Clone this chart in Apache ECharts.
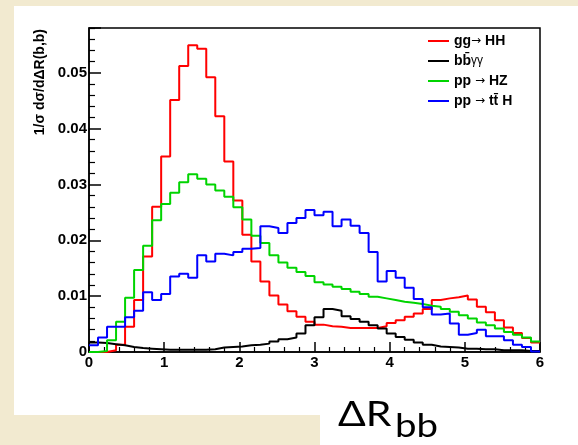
<!DOCTYPE html>
<html>
<head>
<meta charset="utf-8">
<script src="https://cdn.jsdelivr.net/npm/echarts@6/dist/echarts.min.js"></script>
<style>
  html, body { margin:0; padding:0; }
  body { width:578px; height:445px; background:#F2EAD0; position:relative; overflow:hidden; }
  .panel { position:absolute; background:#ffffff; }
  #chart { position:absolute; left:0; top:0; width:578px; height:445px; }
</style>
</head>
<body>
<div class="panel" style="left:14px; top:6px; width:564px; height:409px;"></div>
<div class="panel" style="left:320px; top:414px; width:258px; height:31px;"></div>
<div id="chart"></div>
<script>
// ---- Data (normalized distributions, 50 bins from 0 to 6) ----
const xRange = [0, 6];
const nBins = 50;
const seriesNames = ['gg\u2192 HH', 'bb\u0304\u03b3\u03b3', 'pp \u2192 HZ', 'pp \u2192 tt\u0304 H'];
const seriesColors = ['#ff0000', '#000000', '#00d400', '#0000ff'];

const ggHH = [0, 0, 0.0003, 0.0013, 0.0045, 0.0093, 0.0171, 0.0260, 0.0350, 0.0451,
  0.0512, 0.0549, 0.0543, 0.0492, 0.0422, 0.0341, 0.0271, 0.0210, 0.0162, 0.0126,
  0.0101, 0.0085, 0.0073, 0.0063, 0.0054, 0.0049, 0.0046, 0.0045, 0.0043, 0.0043,
  0.0043, 0.0043, 0.0046, 0.0052, 0.0057, 0.0063, 0.0069, 0.0077, 0.0093, 0.0096,
  0.0098, 0.0101, 0.0094, 0.0081, 0.0071, 0.0057, 0.0044, 0.0034, 0.0025, 0.0017];

const bbgg = [0.0017, 0.0016, 0.0014, 0.0012, 0.0009, 0.0007, 0.0006, 0.0005, 0.0004, 0.0004,
  0.0004, 0.0004, 0.0004, 0.0005, 0.0008, 0.0009, 0.0010, 0.0012, 0.0013, 0.0015,
  0.0019, 0.0023, 0.0026, 0.0033, 0.0048, 0.0062, 0.0077, 0.0074, 0.0064, 0.0059,
  0.0054, 0.0048, 0.0042, 0.0033, 0.0027, 0.0022, 0.0017, 0.0013, 0.0010, 0.0009,
  0.0008, 0.0006, 0.0006, 0.0005, 0.0005, 0.0003, 0.0003, 0.0003, 0.0002, 0.0002];

const ppHZ = [0, 0.0002, 0.0021, 0.0054, 0.0097, 0.0147, 0.0190, 0.0236, 0.0265, 0.0285,
  0.0304, 0.0318, 0.0310, 0.0300, 0.0289, 0.0278, 0.0259, 0.0237, 0.0208, 0.0195,
  0.0173, 0.0160, 0.0151, 0.0143, 0.0136, 0.0125, 0.0121, 0.0117, 0.0113, 0.0108,
  0.0104, 0.0099, 0.0096, 0.0093, 0.0090, 0.0088, 0.0086, 0.0083, 0.0081, 0.0077,
  0.0072, 0.0066, 0.0060, 0.0053, 0.0048, 0.0042, 0.0036, 0.0031, 0.0026, 0.0019];

const ppttH = [0.0012, 0.0026, 0.0045, 0.0045, 0.0062, 0.0074, 0.0107, 0.0093, 0.0104, 0.0135,
  0.0140, 0.0133, 0.0173, 0.0162, 0.0176, 0.0173, 0.0179, 0.0185, 0.0186, 0.0225,
  0.0222, 0.0213, 0.0231, 0.0240, 0.0254, 0.0245, 0.0251, 0.0225, 0.0237, 0.0226,
  0.0213, 0.0179, 0.0126, 0.0145, 0.0133, 0.0115, 0.0095, 0.0080, 0.0067, 0.0069,
  0.0051, 0.0031, 0.0034, 0.0040, 0.0028, 0.0028, 0.0021, 0.0013, 0.0009, 0.0001];

const xTickLabels = ['0', '1', '2', '3', '4', '5', '6'];
const yTickLabels = ['0', '0.01', '0.02', '0.03', '0.04', '0.05'];
const yTitle = '1/\u03c3 d\u03c3/d\u0394R(b,b)';
const xTitleMain = '\u0394R';
const xTitleSub = 'bb';

// ---- Build histogram outlines ----
const binWidth = (xRange[1] - xRange[0]) / nBins;
function histPoints(vals) {
  const pts = [];
  vals.forEach((v, i) => {
    const lo = xRange[0] + i * binWidth;
    pts.push([lo, v], [lo + binWidth, v]);
  });
  return pts;
}
const allData = [ggHH, bbgg, ppHZ, ppttH];

const font = 'Liberation Sans, Arial, sans-serif';
const chart = echarts.init(document.getElementById('chart'), null, { renderer: 'canvas' });
chart.setOption({
  backgroundColor: 'transparent',
  animation: false,
  grid: { left: 89, right: 38, top: 28, bottom: 93, show: true, borderColor: '#000', borderWidth: 1.5, backgroundColor: '#fff' },
  xAxis: {
    type: 'value', min: 0, max: 6, interval: 1,
    axisLine: { lineStyle: { color: '#000', width: 1.5 } },
    axisTick: { inside: true, length: 10, lineStyle: { color: '#000', width: 1.5 } },
    minorTick: { show: true, splitNumber: 5, length: 5, lineStyle: { color: '#000', width: 1.2 } },
    splitLine: { show: false },
    axisLabel: { color: '#000', fontWeight: 'bold', fontSize: 15, fontFamily: font, margin: 3,
      formatter: v => xTickLabels[Math.round(v)] }
  },
  yAxis: {
    type: 'value', min: 0, max: 0.058, interval: 0.01,
    axisLine: { lineStyle: { color: '#000', width: 1.5 } },
    axisTick: { inside: true, length: 12, lineStyle: { color: '#000', width: 1.5 } },
    minorTick: { show: true, splitNumber: 5, length: 6, lineStyle: { color: '#000', width: 1.2 } },
    splitLine: { show: false },
    axisLabel: { color: '#000', fontWeight: 'bold', fontSize: 15, fontFamily: font, margin: 2, showMaxLabel: false,
      formatter: v => { const i = Math.round(v / 0.01); return Math.abs(v - i * 0.01) < 1e-9 ? yTickLabels[i] : ''; } }
  },
  legend: {
    orient: 'vertical', left: 428, top: 33, padding: 0,
    itemWidth: 21, itemHeight: 2, itemGap: 4, icon: 'rect',
    selectedMode: false,
    data: seriesNames,
    formatter: name => {
      if (name === seriesNames[1]) return '{b|bb\u0304}{g|\u03b3\u03b3}';
      const parts = name.split('\u2192');
      return '{t|' + parts[0] + '}{a|\u2192}{t|' + parts[1] + '}';
    },
    textStyle: { color: '#000', fontWeight: 'bold', fontSize: 14, fontFamily: font, lineHeight: 16,
      rich: { t: { fontWeight: 'bold', fontSize: 14, fontFamily: font, lineHeight: 16 },
              a: { fontWeight: 'normal', fontSize: 12, fontFamily: 'DejaVu Sans, sans-serif', lineHeight: 16 },
              b: { fontWeight: 'bold', fontSize: 14, fontFamily: font, lineHeight: 16 },
              g: { fontWeight: 'normal', fontSize: 12, fontFamily: font, lineHeight: 16 } } }
  },
  series: seriesNames.map((n, k) => ({
    name: n, type: 'line', data: histPoints(allData[k]), symbol: 'none',
    color: seriesColors[k], lineStyle: { color: seriesColors[k], width: 2 }, clip: true
  })),
  graphic: [
    { type: 'text', x: 40, y: 29, rotation: Math.PI / 2,
      style: { text: yTitle, fill: '#000', font: 'bold 14px ' + font, textAlign: 'right', textVerticalAlign: 'middle' } },
    { type: 'text', x: 338, y: 415, scaleX: 1.17,
      style: { text: xTitleMain, fill: '#000', font: '35px Lato, sans-serif', textAlign: 'left', textVerticalAlign: 'middle' } },
    { type: 'text', x: 395, y: 427, scaleX: 1.2,
      style: { text: xTitleSub, fill: '#000', font: '32px Lato, sans-serif', textAlign: 'left', textVerticalAlign: 'middle' } }
  ]
});
</script>
</body>
</html>
